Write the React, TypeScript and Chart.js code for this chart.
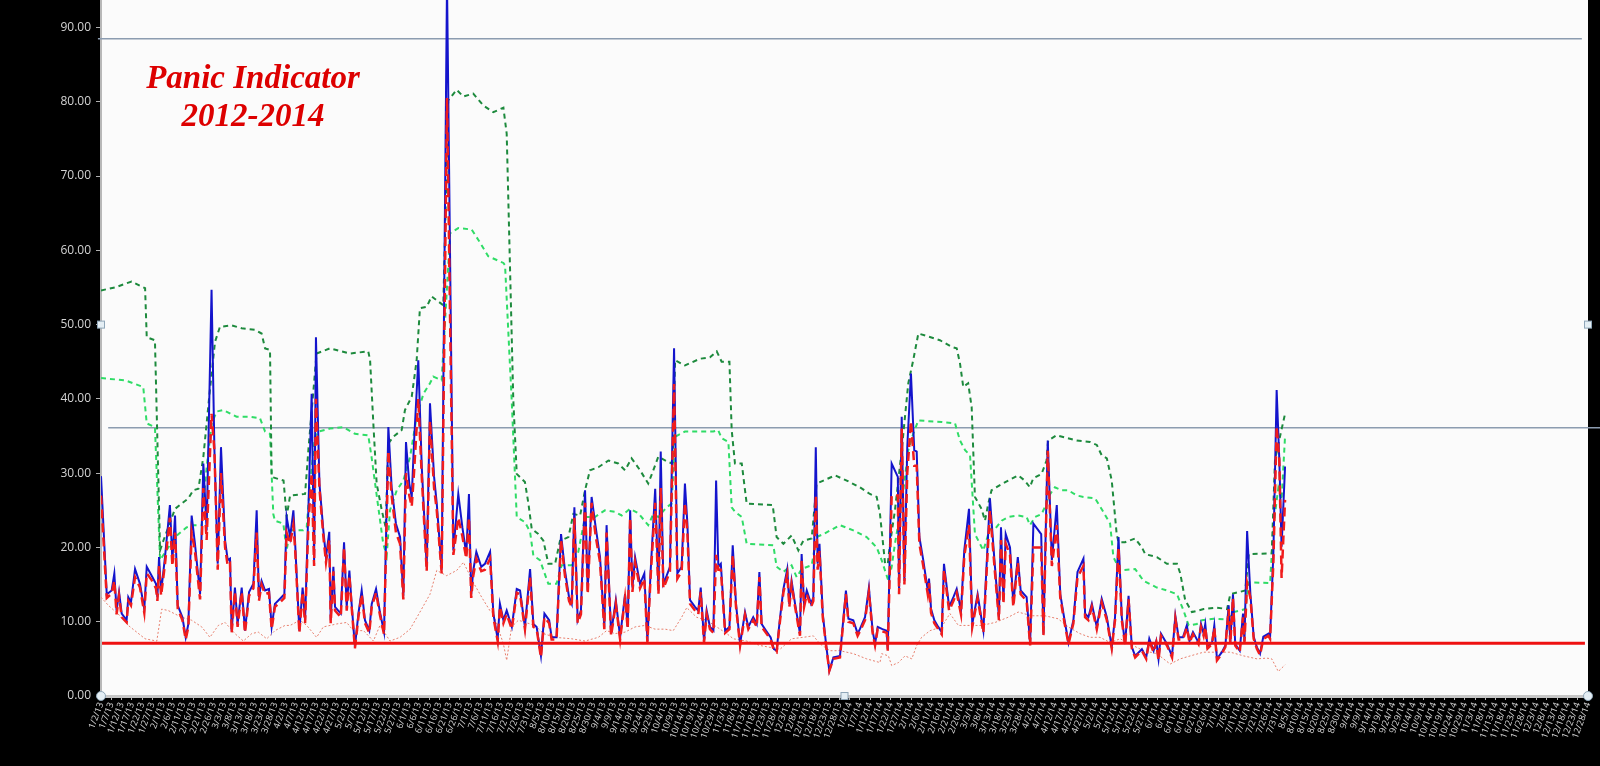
import { useEffect, useRef } from "react";
import { Chart, registerables } from "chart.js";

Chart.register(...registerables);

// ---------- data (x = calendar days after 1/2/13) ----------
const START_DATE = Date.UTC(2013, 0, 2);
const AXIS_LAST_DAY = 725; // 12/28/14
const LABEL_STEP_DAYS = 5;
const Y_TICK_VALUES = [0, 10, 20, 30, 40, 50, 60, 70, 80, 90];

const TITLE_LINES = ["Panic Indicator", "2012-2014"];

// [day, blue solid value, red dashed value]
const dailyReadings: [number, number, number][] = [
  [0,29.6,27],[2.8,13.7,13.2],[5.2,14.2,13.8],[6.5,16.5,15.5],[7.6,11.5,11.0],[8.8,14.0,13.5],[10.1,11.1,10.6],[12.5,10.2,9.9],[13.3,13.3,12.8],[14.6,12.6,12.2],
  [16.6,17.1,16.0],[19.0,15.1,14.6],[21.1,11.7,11.2],[22.3,17.4,16.5],[24.7,16.2,15.6],[26.8,15.1,14.5],[27.5,13.3,12.8],[28.3,18.7,17.5],[29.3,14.0,13.5],[31.2,18.7,17.8],
  [33.6,25.7,24.0],[34.8,18.3,17.5],[36.1,24.3,22.0],[37.4,12.2,11.8],[39.7,10.6,10.2],[41.3,7.9,7.6],[42.6,9.7,9.3],[44.2,24.3,22.0],[45.8,20.5,19.5],[48.3,13.7,13.0],
  [49.9,31.3,28.0],[51.5,22.3,21.0],[53.9,54.7,38.0],[55.3,33.1,33.0],[56.9,17.8,17.0],[58.5,33.5,30.0],[60.5,20.9,20.0],[61.8,18.3,17.5],[62.9,18.5,17.8],[63.7,8.8,8.5],
  [65.3,14.6,14.0],[66.6,9.7,9.3],[68.6,14.6,14.0],[70.2,8.8,8.5],[72.2,14.0,13.5],[74.3,15.1,14.5],[75.9,25.0,22.0],[77.0,13.3,12.8],[78.3,15.5,15.0],[80.0,14.2,13.7],
  [81.9,14.4,13.9],[83.2,9.3,9.0],[84.8,12.4,12.0],[87.3,13.1,12.6],[89.4,13.7,13.2],[90.5,24.1,22.0],[92.2,21.4,20.5],[93.8,25.0,23.0],
  [94.6,20.9,20.0],[96.7,8.8,8.5],[98.3,14.6,14.0],[99.5,10.2,9.8],[101.1,25.0,23.0],[102.7,40.7,30.0],[103.9,18.3,17.5],[104.8,48.3,40.0],[106.5,28.6,28.0],[108.4,22.3,21.5],
  [109.7,18.7,18.0],[111.3,22.1,21.0],[112.0,10.2,9.8],[113.3,17.4,16.8],[114.1,12.0,11.5],[116.9,11.1,10.6],[118.5,20.7,20.0],[119.8,12.0,11.5],[121.1,16.9,16.2],[122.2,12.4,12.0],
  [123.8,6.6,6.4],[125.5,11.1,10.6],[127.1,14.2,13.7],[128.7,10.2,9.8],[130.8,8.8,8.5],[132.0,12.4,12.0],[134.1,14.4,13.9],[136.0,11.3,10.9],[138.0,8.6,8.3],[140.1,36.2,33.0],
  [141.7,28.1,27.0],[143.8,23.2,22.0],[145.8,21.4,20.5],[147.4,13.5,13.0],[148.7,34.2,30.0],[150.3,28.6,27.0],[151.5,26.8,25.5],[152.6,34.0,30.0],[154.7,45.2,40.0],[156.4,30.8,29.5],
  [158.8,17.4,16.8],[160.4,39.4,37.0],[162.4,29.5,28.0],[163.7,25.9,25.0],[166.1,17.0,16.5],[168.7,96.0,80.5],[171.8,19.6,19.0],[174.2,27.2,24.0],[176.2,22.7,21.5],[178.1,19.1,18.5],
  [179.4,27.2,24.0],[180.5,13.7,13.2],[181.5,16.9,16.2],[183.0,19.4,18.5],[185.4,17.4,16.8],[187.2,17.8,17.0],[189.7,19.4,18.5],
  [191.3,11.1,10.6],[193.4,7.7,7.4],[194.5,12.4,12.0],[196.2,10.2,9.8],[197.8,11.5,11.0],[200.3,9.3,9.0],[202.7,14.4,13.9],[204.3,14.2,13.7],[206.7,9.3,9.0],[209.2,17.1,16.0],
  [210.8,9.7,9.3],[212.4,9.3,9.0],[214.5,5.4,5.2],[216.2,11.1,10.6],[218.5,10.2,9.8],[219.7,7.9,7.6],[222.1,7.9,7.6],[224.3,21.8,21.0],[226.2,16.9,16.2],[228.2,13.3,12.8],
  [229.5,12.4,12.0],[230.8,25.4,24.0],[232.4,10.2,9.8],[234.0,11.5,11.0],[236.0,27.7,26.0],[237.3,14.2,13.7],[239.2,26.8,26.0],[241.2,22.7,21.5],[243.3,18.7,18.0],[245.4,9.3,9.0],
  [246.5,23.0,22.0],[248.7,8.4,8.1],[251.0,12.9,12.4],[253.1,7.9,7.6],[255.5,13.7,13.2],[256.8,9.3,9.0],[258.0,25.0,24.0],[259.1,14.6,14.0],[260.4,18.7,18.0],[262.8,15.1,14.5],
  [264.9,16.5,15.8],[266.4,7.4,7.2],[268.0,16.9,16.2],[270.2,27.9,26.0],[271.8,14.2,13.7],[272.9,32.9,28.0],[274.2,15.1,14.5],[275.8,16.2,15.6],[277.4,17.4,16.8],[279.4,46.8,42.0],
  [281.0,16.5,15.8],[283.1,17.4,16.8],
  [284.7,28.6,26.0],[285.9,23.2,22.0],[287.2,12.9,12.4],[289.6,12.0,11.5],[291.2,11.5,11.0],[292.4,14.6,14.0],[294.0,7.4,7.2],[295.3,11.5,11.0],[296.9,9.3,9.0],[298.6,8.8,8.5],
  [299.9,29.0,19.0],[301.0,17.4,17.0],[302.2,17.8,17.0],[304.3,8.8,8.5],[306.4,9.3,9.0],[308.0,20.3,19.0],[309.6,12.4,12.0],[311.6,7.0,6.8],[314.0,11.3,10.9],[315.6,9.3,9.0],
  [318.0,10.6,10.2],[319.7,9.7,9.3],[321.0,16.7,16.0],[322.1,9.7,9.3],[324.2,8.8,8.5],[326.5,7.9,7.6],[328.1,6.3,6.1],[329.4,6.1,5.9],[331.1,10.6,10.2],[332.7,14.4,13.9],
  [334.6,17.1,16.4],[335.6,12.4,12.0],[336.7,15.5,15.0],[338.4,12.4,12.0],[340.8,8.4,8.1],[341.6,19.1,18.3],[342.8,12.4,12.0],[344.1,14.2,13.7],[346.2,12.4,12.0],[347.3,13.3,12.8],
  [348.5,33.5,27.0],[349.4,17.8,17.0],[350.3,20.5,19.5],[351.9,11.1,10.6],[353.5,7.0,6.8],[355.1,3.4,3.4],[357.1,5.2,5.0],[360.3,5.4,5.2],[363.2,14.2,13.7],[364.4,10.4,10.0],
  [366.8,10.2,9.8],[368.9,8.4,8.1],[370.0,9.0,8.7],[372.5,10.6,10.2],[374.4,14.6,14.0],[376.2,8.8,8.5],[377.4,7.0,6.8],
  [378.7,9.3,9.0],[381.0,9.0,8.7],[383.1,8.8,8.5],[383.6,6.3,6.1],[385.5,31.3,27.0],[388.5,29.5,27.0],[389.1,14.2,13.7],[390.4,37.6,36.0],[391.7,15.5,15.0],[393.1,33.5,30.0],
  [394.9,43.4,37.0],[396.5,33.1,31.0],[397.7,32.9,31.0],[399.0,21.4,20.5],[400.9,18.3,17.5],[403.1,14.2,13.7],[403.7,15.8,15.2],[404.7,11.7,11.2],[406.3,10.2,9.8],[408.2,9.3,9.0],
  [409.9,8.6,8.3],[411.0,17.8,17.0],[413.5,12.0,11.5],[415.6,13.3,12.8],[417.2,14.4,13.9],[419.3,11.5,11.0],[420.9,19.6,18.8],[423.2,25.2,23.0],[424.8,9.7,9.3],[427.4,13.7,13.2],
  [430.2,8.8,8.5],[433.4,26.6,25.0],[435.6,18.3,17.5],[437.8,10.6,10.2],[438.8,22.7,21.0],[440.0,12.9,12.4],[441.1,21.8,20.5],[443.2,20.0,19.0],[444.8,12.4,12.0],[447.0,18.7,18.0],
  [448.4,14.2,13.7],[451.3,13.3,12.8],[453.0,7.0,6.8],[454.6,23.2,20.0],[458.4,21.8,20.0],[459.5,8.4,8.1],[461.6,34.4,33.0],[463.6,18.3,17.5],[466.0,25.7,23.0],[467.7,13.7,13.2],
  [469.8,10.2,9.8],[471.7,7.2,7.0],
  [474.1,10.2,9.8],[476.1,16.7,16.0],[479.0,18.5,17.5],[479.8,11.1,10.6],[481.4,10.6,10.2],[483.1,12.4,12.0],[485.5,9.3,9.0],[487.9,13.1,12.6],[490.4,10.6,10.2],[492.8,6.6,6.4],
  [494.4,10.6,10.2],[496.1,21.4,20.0],[497.7,10.6,10.2],[499.3,7.0,6.8],[501.0,13.5,13.0],[502.6,6.6,6.4],[504.2,5.4,5.2],[507.5,6.3,6.1],[509.6,5.2,5.0],[511.1,7.7,7.4],
  [513.2,6.1,5.9],[514.5,7.4,7.2],[515.6,5.0,4.8],[516.8,8.4,8.1],[519.7,7.0,6.8],[522.2,5.4,5.2],[523.8,10.8,10.4],[525.4,7.9,7.6],[527.5,7.9,7.6],[529.4,9.5,9.2],
  [530.7,7.4,7.2],[532.4,8.6,8.3],[535.1,7.2,7.0],[536.3,9.7,9.3],[537.6,8.4,8.1],[538.4,9.7,9.3],[539.5,6.6,6.4],[541.7,7.2,7.0],[542.8,9.5,9.2],[544.1,5.0,4.8],
  [546.5,5.9,5.7],[548.2,6.8,6.6],[549.8,12.2,11.7],[550.6,7.2,7.0],[551.9,13.7,13.2],[553.0,7.0,6.8],[555.2,6.1,5.9],[556.8,11.1,10.6],[557.5,7.4,7.2],[558.8,22.2,15.2],
  [560.4,13.7,13.2],[562.0,8.0,7.7],[563.5,6.6,6.4],[565.1,5.7,5.5],[566.7,8.0,7.7],[569.2,8.4,8.1],[570.0,8.0,7.7],[571.6,19.2,18.0],[573.2,41.2,36.3],[574.5,31.8,31.8],
  [575.6,20.1,15.9],[577.3,30.9,26.4],
];

// [day, value] — upper (dark green) band
const darkGreenBand: [number, number][] = [
  [0,54.6],[6.8,55.0],[14.9,55.8],[21.5,54.9],[22.3,48.3],[26.3,47.9],[28.8,19.6],[30.4,20.9],[36.1,25.2],[42.6,26.6],
  [45.0,27.7],[47.5,27.9],[49.9,32.2],[53.1,41.2],[55.6,47.7],[58.0,49.7],[63.7,49.9],[68.6,49.5],[75.1,49.3],[78.3,48.8],
  [80.0,46.8],[82.4,46.6],[83.2,29.5],[89.0,29.0],[90.5,24.1],[92.2,27.0],[99.5,27.2],[101.1,33.1],[105.1,46.1],[111.6,46.8],
  [121.4,46.1],[130.3,46.4],[131.2,45.2],[132.8,36.6],[134.4,28.6],[136.9,25.0],[138.8,22.7],[140.1,34.0],[142.5,34.9],[146.6,35.8],
  [148.2,38.5],[151.5,40.3],[153.9,45.2],[155.5,52.2],[158.8,52.4],[161.2,53.8],[164.5,53.1],[166.9,52.6],[169.3,80.2],[173.4,81.6],
  [176.7,80.7],[181.5,81.1],[186.4,79.5],[191.3,78.6],[196.2,79.2],[197.8,75.7],[201.0,40.0],[202.7,29.9],[206.7,28.8],[208.4,25.9],
  [210.0,22.5],[213.2,21.8],[215.7,20.9],[218.1,17.8],[221.4,17.8],[223.8,20.9],[227.9,21.4],[230.3,24.5],[233.6,24.3],[236.0,27.7],
  [238.4,30.4],[242.5,30.8],[247.4,31.7],[252.2,31.3],[255.5,30.4],[258.7,32.0],[262.8,30.4],[266.8,28.6],[269.3,30.4],[271.7,32.2],
  [276.6,31.5],[278.7,31.3],[279.9,45.2],[284.7,44.5],[292.0,45.4],[296.9,45.6],[300.2,46.4],[302.6,45.0],[306.4,45.0],[307.5,35.8],
  [309.1,31.3],[312.4,31.3],[314.8,25.9],[327.5,25.7],[329.4,21.4],[332.7,20.5],[336.7,21.6],[340.0,19.6],[342.4,20.9],[346.5,21.2],
  [348.9,28.6],[352.2,29.0],[357.9,29.7],[363.6,29.0],[370.0,28.1],[374.9,27.2],[378.2,26.8],[379.8,24.5],[382.3,17.8],[383.6,17.8],
  [384.7,20.5],[387.1,25.0],[390.4,33.1],[393.6,42.1],[396.0,45.2],[398.5,48.8],[403.4,48.4],[409.0,47.9],[414.7,47.0],[417.2,46.8],
  [418.8,44.8],[420.4,41.6],[422.8,42.1],[424.5,38.9],[426.1,26.8],[429.3,25.2],[431.0,23.6],[432.6,25.9],[434.2,27.7],[438.3,28.4],
  [442.3,29.0],[447.2,29.7],[450.4,29.0],[452.9,28.1],[454.5,29.3],[458.6,29.9],[461.0,31.7],[461.8,34.4],[465.9,35.1],[475.7,34.4],
  [482.2,34.2],[485.5,33.8],[487.9,32.4],[490.4,32.0],[492.8,29.0],[495.2,21.8],[496.1,20.7],[499.3,20.7],[504.2,21.2],[507.5,20.0],
  [509.1,19.1],[514.8,18.7],[519.7,17.8],[524.6,17.8],[526.2,16.5],[528.6,12.9],[531.9,11.3],[537.6,11.7],[544.1,11.9],[549.0,11.7],
  [550.6,13.7],[557.9,14.2],[559.6,19.1],[570.8,19.2],[572.4,31.8],[574.8,34.9],[577.3,38.0],
];

// [day, value] — lower (light green) band
const lightGreenBand: [number, number][] = [
  [0,42.8],[11.7,42.5],[20.6,41.6],[22.3,36.7],[26.3,36.2],[28.8,18.3],[36.1,21.4],[41.7,22.7],[45.0,23.0],[49.1,23.0],
  [51.5,30.8],[54.0,36.7],[56.4,38.3],[59.6,38.5],[66.1,37.6],[72.5,37.6],[77.5,37.4],[80.0,35.6],[82.4,35.3],[84.0,24.5],
  [84.8,23.6],[88.9,23.2],[90.5,19.6],[92.2,22.3],[98.6,22.3],[100.3,22.7],[101.9,28.6],[104.3,34.9],[105.9,35.6],[111.6,36.0],
  [118.1,36.2],[123.8,35.3],[130.3,35.1],[131.9,32.2],[135.2,25.4],[137.6,20.5],[139.3,18.9],[140.9,25.0],[144.2,27.7],[147.4,29.0],
  [150.7,32.2],[153.9,37.6],[157.2,40.7],[160.4,42.1],[162.0,43.0],[166.1,42.5],[170.2,62.3],[174.2,63.0],[180.7,62.8],[184.0,61.4],
  [188.8,59.2],[196.2,58.3],[197.0,58.0],[200.2,40.0],[202.7,24.1],[206.7,23.4],[209.2,22.1],[210.8,18.9],[214.0,18.3],[218.1,15.1],
  [222.1,15.1],[224.6,17.6],[229.5,17.6],[232.7,19.4],[236.0,24.1],[240.8,24.1],[245.7,25.0],[250.6,24.8],[253.9,24.3],[257.9,25.2],
  [262.0,24.6],[266.8,23.0],[269.3,24.5],[271.7,24.1],[275.8,25.4],[278.2,25.9],[279.9,34.9],[284.7,35.6],[292.0,35.6],[298.5,35.6],
  [300.9,35.8],[302.6,34.7],[305.9,34.2],[307.5,25.4],[309.1,24.8],[312.4,24.1],[314.8,20.5],[327.8,20.3],[329.4,17.4],[332.7,16.7],
  [336.7,17.6],[339.2,16.0],[341.6,17.1],[346.5,17.6],[348.9,21.4],[352.2,21.8],[360.3,23.0],[366.8,22.3],[373.3,21.4],[378.2,20.0],
  [380.6,18.3],[383.9,15.5],[385.5,17.4],[387.1,20.5],[390.4,25.9],[393.6,33.1],[396.0,35.3],[398.5,37.1],[403.4,37.0],[409.9,36.9],
  [416.4,36.7],[418.8,34.4],[421.3,33.1],[423.7,32.4],[426.1,21.8],[430.2,19.6],[433.4,22.5],[435.9,22.5],[439.1,23.6],[442.3,24.1],
  [447.2,24.3],[451.3,24.1],[452.9,23.0],[455.4,24.1],[458.6,24.5],[461.0,25.9],[461.8,26.8],[465.1,28.1],[468.4,27.7],[471.6,27.7],
  [475.7,27.0],[479.0,26.8],[484.7,26.6],[488.7,24.8],[492.0,23.2],[493.6,18.7],[496.9,16.9],[504.2,17.1],[508.3,15.5],[514.8,14.6],
  [519.7,14.2],[524.6,13.7],[527.8,11.5],[530.3,9.5],[534.3,9.7],[536.8,10.2],[542.5,10.4],[549.0,10.3],[552.2,11.3],[557.9,11.7],
  [559.6,15.3],[570.0,15.2],[571.6,22.8],[574.0,28.0],[575.6,26.4],[577.3,35.0],
];

// [day, value] — thin dotted floor
const dottedFloor: [number, number][] = [
  [0,13.3],[3.6,12.2],[10.1,10.6],[13.3,9.5],[21.5,7.7],[27.2,7.4],[29.6,11.7],[32.8,11.5],[39.3,10.6],[44.2,10.2],
  [49.1,9.3],[53.1,7.9],[57.2,9.5],[60.5,9.9],[65.3,8.4],[69.4,7.4],[73.5,8.4],[76.7,8.6],[80.8,7.7],[84.8,8.8],
  [89.7,9.5],[92.2,9.5],[97.0,10.2],[100.3,9.5],[105.1,7.9],[108.4,9.3],[114.9,9.7],[119.8,9.9],[123.0,8.8],[128.0,8.8],
  [132.8,7.4],[136.0,9.5],[140.9,7.4],[145.8,7.9],[150.7,9.0],[155.5,11.3],[160.4,13.7],[163.7,16.9],[168.5,16.2],[173.4,16.9],
  [176.7,18.0],[181.5,15.3],[185.6,13.3],[189.6,11.5],[191.3,11.1],[196.2,7.0],[197.8,4.8],[200.2,9.3],[203.5,10.2],[211.6,9.5],
  [215.7,8.4],[221.4,7.9],[229.5,7.7],[236.0,7.4],[242.5,7.9],[246.5,8.8],[250.6,8.4],[255.5,8.6],[260.4,9.3],[265.2,9.5],
  [270.1,9.0],[275.0,9.0],[279.0,8.8],[283.1,10.6],[285.6,11.9],[290.4,10.6],[295.3,10.2],[300.2,9.3],[305.1,8.4],[308.3,7.7],
  [314.8,7.4],[321.3,6.8],[331.1,6.3],[336.7,7.7],[342.4,7.9],[347.3,8.1],[350.6,7.0],[355.4,6.1],[360.3,6.1],[366.8,5.7],
  [373.3,5.0],[379.8,4.5],[380.6,5.7],[383.9,5.4],[385.5,4.1],[388.8,4.5],[392.0,5.4],[395.3,5.0],[397.7,6.8],[400.1,7.9],
  [404.2,8.8],[409.9,9.3],[413.9,11.1],[418.0,9.5],[429.4,9.5],[435.9,9.9],[442.3,10.6],[447.2,11.3],[453.7,10.8],[460.2,10.8],
  [466.6,10.4],[471.6,9.3],[477.3,8.4],[482.2,7.9],[487.1,7.9],[492.0,7.2],[496.9,7.7],[501.7,7.0],[508.3,6.1],[514.8,5.7],
  [521.3,4.3],[526.2,5.0],[531.1,5.4],[537.6,5.9],[544.1,5.9],[550.6,5.9],[557.1,5.4],[563.6,5.0],[568.3,5.1],[570.8,5.0],
  [574.0,3.3],[577.3,4.2],
];

// horizontal reference levels: [value, first day, last day]
const upperGreyLevel: [number, number, number] = [88.5, -1.5, 722];
const lowerGreyLevel: [number, number, number] = [36.1, 3.5, 731];
const redFloorLevel: [number, number, number] = [7.1, 0.5, 723.5];

// ---------- helpers ----------
function dayLabel(day: number): string {
  const d = new Date(START_DATE + Math.round(day) * 86400000);
  return `${d.getUTCMonth() + 1}/${d.getUTCDate()}/${String(d.getUTCFullYear()).slice(2)}`;
}
const toPoints = (rows: [number, number][]) => rows.map(([x, y]) => ({ x, y }));
const levelPoints = ([v, a, b]: [number, number, number]) => [
  { x: a, y: v },
  { x: b, y: v },
];

const backgroundPlugin = {
  id: "panicBackground",
  beforeDraw(chart: any) {
    const { ctx, chartArea, width, height } = chart;
    ctx.save();
    ctx.fillStyle = "#000000";
    ctx.fillRect(0, 0, width, height);
    ctx.fillStyle = "#fbfbfb";
    ctx.fillRect(chartArea.left, 0, chartArea.right - chartArea.left, chartArea.bottom);
    ctx.restore();
  },
  afterDraw(chart: any) {
    const { ctx, chartArea } = chart;
    const yMid = chart.scales.y.getPixelForValue(50);
    ctx.save();
    ctx.lineWidth = 1;
    ctx.strokeStyle = "#8fa6b8";
    ctx.fillStyle = "#e4eef4";
    const circle = (x: number, y: number) => {
      ctx.beginPath();
      ctx.arc(x, y, 4.5, 0, Math.PI * 2);
      ctx.fill();
      ctx.stroke();
    };
    const square = (x: number, y: number) => {
      ctx.fillRect(x - 3.5, y - 3.5, 7, 7);
      ctx.strokeRect(x - 3.5, y - 3.5, 7, 7);
    };
    circle(chartArea.left, chartArea.bottom);
    circle(chartArea.right, chartArea.bottom);
    square(chartArea.left, yMid);
    square(chartArea.right, yMid);
    square((chartArea.left + chartArea.right) / 2, chartArea.bottom);
    ctx.restore();
  },
};

export default function App() {
  const canvasRef = useRef<HTMLCanvasElement | null>(null);

  useEffect(() => {
    document.body.style.margin = "0";
    document.body.style.background = "#000";
    const canvas = canvasRef.current;
    if (!canvas) return;

    const bluePts = dailyReadings.map(([x, b]) => ({ x, y: b }));
    const redPts = dailyReadings.map(([x, , r]) => ({ x, y: r }));

    const xTickValues: number[] = [];
    for (let d = 0; d <= AXIS_LAST_DAY; d += LABEL_STEP_DAYS) xTickValues.push(d);

    const chart = new Chart(canvas, {
      type: "line",
      data: {
        datasets: [
          {
            label: "floor",
            data: levelPoints(redFloorLevel),
            borderColor: "#ee1111",
            borderWidth: 3,
            order: 0,
          },
          {
            label: "red",
            data: redPts,
            borderColor: "#f01c1c",
            borderWidth: 2.5,
            borderDash: [9, 5],
            order: 1,
          },
          {
            label: "blue",
            data: bluePts,
            borderColor: "#1414cc",
            borderWidth: 2,
            order: 2,
          },
          {
            label: "dark green",
            data: toPoints(darkGreenBand),
            borderColor: "#1d8a3d",
            borderWidth: 2,
            borderDash: [5, 4],
            order: 3,
          },
          {
            label: "light green",
            data: toPoints(lightGreenBand),
            borderColor: "#2fdc66",
            borderWidth: 2,
            borderDash: [5, 4],
            order: 3,
          },
          {
            label: "dotted",
            data: toPoints(dottedFloor),
            borderColor: "#e8806e",
            borderWidth: 1,
            borderDash: [2, 2],
            order: 4,
          },
          {
            label: "upper grey",
            data: levelPoints(upperGreyLevel),
            borderColor: "#8c9cb0",
            borderWidth: 1.5,
            clip: false as any,
            order: 5,
          },
          {
            label: "lower grey",
            data: levelPoints(lowerGreyLevel),
            borderColor: "#8c9cb0",
            borderWidth: 1.5,
            clip: false as any,
            order: 5,
          },
        ] as any,
      },
      options: {
        animation: false,
        responsive: false,
        maintainAspectRatio: false,
        layout: { padding: { left: 0, right: 12, top: 0, bottom: 0 } },
        elements: {
          point: { radius: 0, hoverRadius: 0 },
          line: { tension: 0, fill: false },
        },
        plugins: {
          legend: { display: false },
          tooltip: { enabled: false },
          title: { display: false },
        },
        events: [],
        scales: {
          x: {
            type: "linear",
            min: 0,
            max: AXIS_LAST_DAY,
            afterBuildTicks: (scale: any) => {
              scale.ticks = xTickValues.map((value) => ({ value }));
            },
            afterFit: (scale: any) => {
              scale.height = 70;
              scale.paddingLeft = 0;
              scale.paddingRight = 0;
            },
            ticks: {
              autoSkip: false,
              minRotation: 70,
              maxRotation: 70,
              padding: 1,
              color: "#d6d6d6",
              font: { family: "'Open Sans', sans-serif", size: 9 },
              callback: (v: any) => dayLabel(Number(v)),
            },
            grid: {
              drawOnChartArea: false,
              drawTicks: true,
              tickLength: 4,
              color: "#b8b8b8",
            },
            border: { color: "#c6c6c6", width: 3 },
          },
          y: {
            min: 0,
            max: 93.7,
            afterBuildTicks: (scale: any) => {
              scale.ticks = Y_TICK_VALUES.map((value) => ({ value }));
            },
            afterFit: (scale: any) => {
              scale.width = 101;
              scale.paddingTop = 0;
              scale.paddingBottom = 0;
            },
            ticks: {
              padding: 5,
              color: "#d2d2d2",
              font: { family: "'Open Sans', sans-serif", size: 12 },
              callback: (v: any) => Number(v).toFixed(2),
            },
            grid: {
              drawOnChartArea: false,
              drawTicks: true,
              tickLength: 5,
              color: "#b0b0b0",
            },
            border: { color: "#b8b8b8", width: 2 },
          },
        },
      } as any,
      plugins: [backgroundPlugin],
    });

    return () => chart.destroy();
  }, []);

  return (
    <div
      style={{
        position: "fixed",
        left: 0,
        top: 0,
        width: 1600,
        height: 766,
        background: "#000",
        overflow: "hidden",
      }}
    >
      <canvas
        ref={canvasRef}
        width={1600}
        height={766}
        style={{ display: "block", width: 1600, height: 766 }}
      />
      <div
        style={{
          position: "absolute",
          left: 103,
          top: 58,
          width: 300,
          textAlign: "center",
          fontFamily: "'Liberation Serif', 'Times New Roman', serif",
          fontStyle: "italic",
          fontWeight: "bold",
          fontSize: 33,
          lineHeight: "38px",
          color: "#dd0000",
          whiteSpace: "nowrap",
        }}
      >
        {TITLE_LINES.map((t) => (
          <div key={t}>{t}</div>
        ))}
      </div>
    </div>
  );
}
